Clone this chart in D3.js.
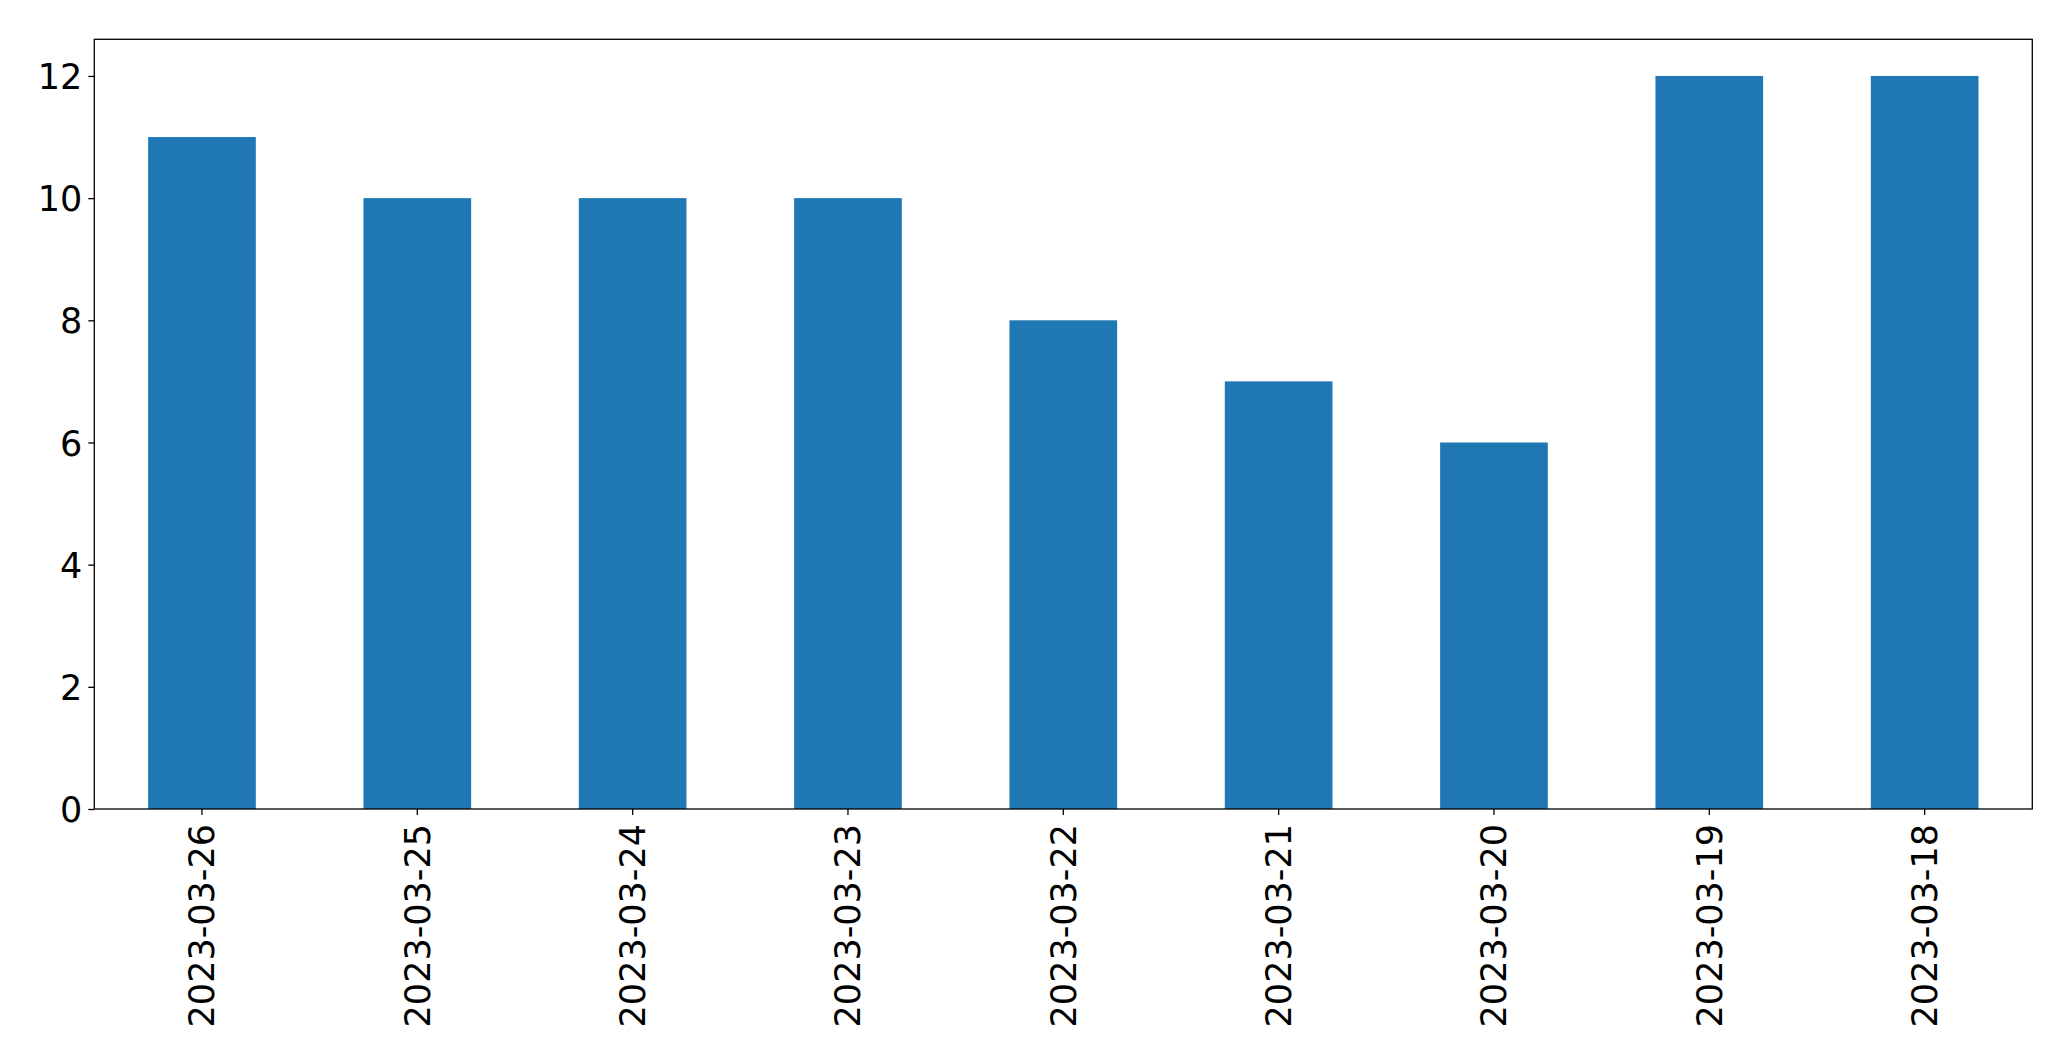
<!DOCTYPE html>
<html>
<head>
<meta charset="utf-8">
<script src="https://cdn.jsdelivr.net/npm/d3@7/dist/d3.min.js"></script>
<style>
  html, body { margin: 0; padding: 0; background: #fff; }
  svg { display: block; }
  text { font-family: "DejaVu Sans", sans-serif; fill: #000; }
</style>
</head>
<body>
<svg id="chart" width="2071" height="1061"></svg>
<script>
const categories = ["2023-03-26","2023-03-25","2023-03-24","2023-03-23","2023-03-22","2023-03-21","2023-03-20","2023-03-19","2023-03-18"];
const values = [11, 10, 10, 10, 8, 7, 6, 12, 12];
const yTicks = [0, 2, 4, 6, 8, 10, 12];

const margin = {left: 94.3, right: 2071 - 2032.3, top: 39.3, bottom: 1061 - 809};
const W = 2071, H = 1061;
const svg = d3.select("#chart");

const x = d3.scaleBand().domain(categories)
  .range([margin.left, W - margin.right])
  .paddingInner(0.5).paddingOuter(0.25);
const y = d3.scaleLinear().domain([0, 12 * 1.05]).range([H - margin.bottom, margin.top]);

svg.append("g").selectAll("rect").data(values).join("rect")
  .attr("x", (d, i) => x(categories[i]))
  .attr("y", d => y(d))
  .attr("width", x.bandwidth())
  .attr("height", d => y(0) - y(d))
  .attr("fill", "#1f77b4");

const fs = 35;
const yAxis = svg.append("g").attr("transform", `translate(${margin.left},0)`)
  .call(d3.axisLeft(y).tickValues(yTicks).tickSize(6).tickPadding(6).tickFormat(d3.format("d")));
yAxis.select(".domain").remove();
yAxis.selectAll("text").style("font-size", fs + "px").attr("dy", "0.36em");
yAxis.selectAll("line").attr("stroke", "#000").attr("stroke-width", 1.3);

const xAxis = svg.append("g").attr("transform", `translate(0,${H - margin.bottom})`)
  .call(d3.axisBottom(x).tickSize(6));
xAxis.select(".domain").remove();
xAxis.selectAll("line").attr("stroke", "#000").attr("stroke-width", 1.3);
xAxis.selectAll("text")
  .style("font-size", fs + "px")
  .attr("text-anchor", "end")
  .attr("transform", "rotate(-90)")
  .attr("x", -15)
  .attr("y", 0)
  .attr("dy", "0.35em");

svg.append("rect")
  .attr("x", margin.left).attr("y", margin.top)
  .attr("width", W - margin.right - margin.left)
  .attr("height", H - margin.bottom - margin.top)
  .attr("fill", "none").attr("stroke", "#000").attr("stroke-width", 1.3);
</script>
</body>
</html>
